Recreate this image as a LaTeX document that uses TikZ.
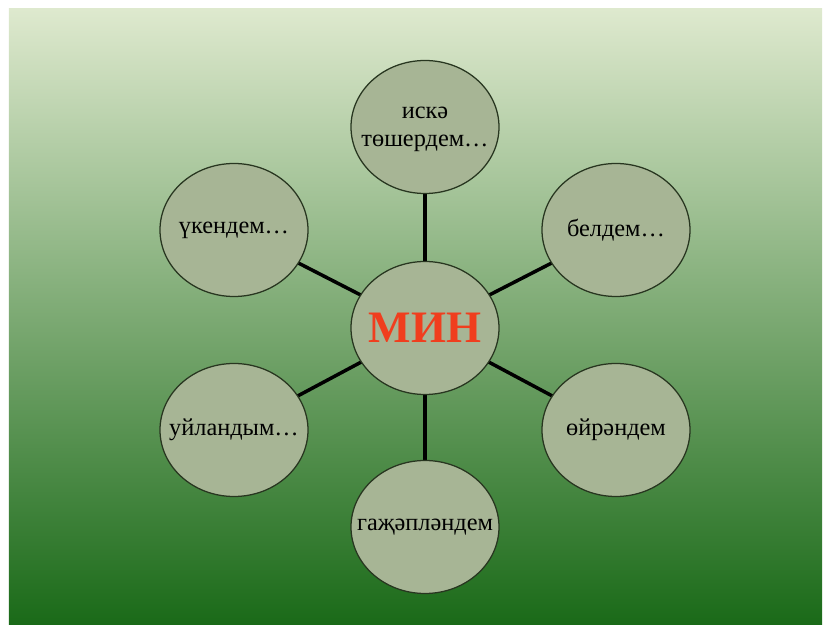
\documentclass[tikz,border=0pt]{standalone}
\usepackage{fontspec}
\setmainfont{Liberation Serif}
\usetikzlibrary{shapes.geometric}
\pgfdeclarelayer{backlayer}
\pgfdeclarelayer{edgelayer}
\pgfdeclarelayer{nodelayer}
\pgfsetlayers{backlayer,edgelayer,nodelayer,main}
\definecolor{paleleaf}{RGB}{222,233,206}
\definecolor{meadow}{RGB}{160,190,108}
\definecolor{forest}{RGB}{26,106,24}
\definecolor{bubblefill}{RGB}{167,181,149}
\definecolor{bubbleline}{RGB}{40,54,32}
\definecolor{hubred}{RGB}{240,62,30}
\tikzstyle{bubble}=[ellipse,fill=bubblefill,draw=bubbleline,line width=0.9pt,minimum width=3.7cm,minimum height=3.325cm,inner sep=0pt,font=\fontsize{17.3}{19.5}\selectfont]
\tikzstyle{hub}=[bubble,text=hubred,font=\fontsize{32}{38}\selectfont\bfseries]
\tikzstyle{spoke}=[-,draw=black,line width=2.5pt]
\tikzstyle{backdrop}=[top color=paleleaf,middle color=meadow,bottom color=forest]
\begin{document}
\begin{tikzpicture}
					\useasboundingbox (-10.625,8.200) rectangle (9.950,-7.450);
					\begin{pgfonlayer}{backlayer}
						\shade [style=backdrop] (-10.400,7.975) rectangle (9.925,-7.425);
					\end{pgfonlayer}
					\begin{pgfonlayer}{nodelayer}
						\node [style=hub] (min) at (0.000,0.000) {\makebox[0pt]{МИН}};
						\node [style=bubble] (iske) at (0.000,5.025) {\makebox[0pt]{\begin{tabular}{@{}c@{}}искә\\төшердем…\end{tabular}}};
						\node [style=bubble] (ukendem) at (-4.775,2.450) {\makebox[0pt]{үкендем…}};
						\node [style=bubble] (beldem) at (4.775,2.450) {\makebox[0pt]{белдем…}};
						\node [style=bubble] (uilandym) at (-4.775,-2.550) {\makebox[0pt]{уйландым…}};
						\node [style=bubble] (oirendem) at (4.775,-2.550) {\makebox[0pt]{өйрәндем}};
						\node [style=bubble] (gajeplendem) at (0.000,-4.975) {\makebox[0pt]{гаҗәпләндем}};
					\end{pgfonlayer}
					\begin{pgfonlayer}{edgelayer}
						\draw [style=spoke] (min.center) to (iske.center);
						\draw [style=spoke] (min.center) to (ukendem.center);
						\draw [style=spoke] (min.center) to (beldem.center);
						\draw [style=spoke] (min.center) to (uilandym.center);
						\draw [style=spoke] (min.center) to (oirendem.center);
						\draw [style=spoke] (min.center) to (gajeplendem.center);
					\end{pgfonlayer}
				\end{tikzpicture}
\end{document}
